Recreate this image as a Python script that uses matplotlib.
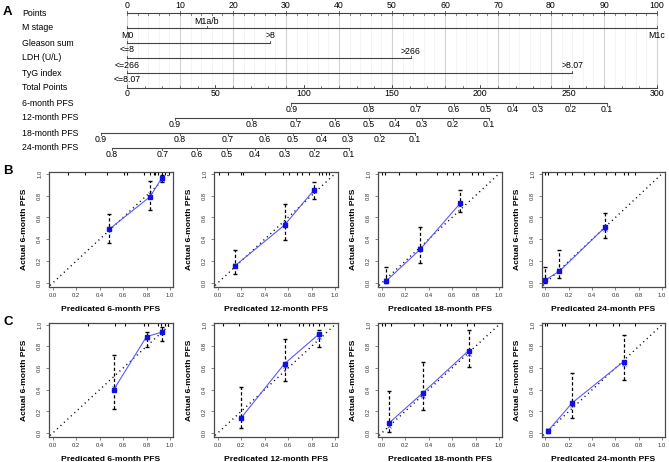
import matplotlib
matplotlib.use("Agg")
import matplotlib.pyplot as plt
from matplotlib.transforms import blended_transform_factory

plt.rcParams['font.family'] = ['Liberation Sans', 'DejaVu Sans']

W, H = 669, 462

# ---------------- nomogram data ----------------
row_names = ["Points", "M stage", "Gleason sum", "LDH (U/L)", "TyG index", "Total Points",
             "6-month PFS", "12-month PFS", "18-month PFS", "24-month PFS"]
points_major = list(range(0, 101, 10))
points_minor = list(range(0, 101, 2))

mstage_labels = ["M0", "M1a/b", "M1c"]
mstage_points = [0, 15, 100]
gleason_labels = ["<=8", ">8"]
gleason_points = [0, 27]
ldh_labels = ["<=266", ">266"]
ldh_points = [0, 53.5]
tyg_labels = ["<=8.07", ">8.07"]
tyg_points = [0, 84]

total_major = list(range(0, 301, 50))
total_minor = list(range(0, 301, 10))

pfs_labels = ["0.9", "0.8", "0.7", "0.6", "0.5", "0.4", "0.3", "0.2", "0.1"]
pfs24_labels = ["0.8", "0.7", "0.6", "0.5", "0.4", "0.3", "0.2", "0.1"]
pfs6_total = [93, 137, 163.5, 185, 203, 218.5, 232.6, 251, 271.6]
pfs12_total = [27, 70.7, 95.6, 117.7, 137, 151.7, 167, 184.5, 205]
pfs18_total = [-15, 30, 57, 78, 94, 110, 125, 143, 163]
pfs24_total = [-8.5, 20, 39.6, 56.6, 72.4, 89.4, 106, 125.6]

# ---------------- calibration data ----------------
x_labels = ["Predicated 6-month PFS", "Predicated 12-month PFS",
            "Predicated 18-month PFS", "Predicated 24-month PFS"]
y_label = "Actual 6-month PFS"

b_pred = [[0.48, 0.83, 0.93], [0.15, 0.57, 0.82], [0.04, 0.33, 0.67], [0.0, 0.12, 0.51]]
b_obs = [[0.49, 0.79, 0.96], [0.16, 0.53, 0.85], [0.02, 0.31, 0.73], [0.03, 0.11, 0.51]]
b_corr = [[0.49, 0.81, 0.95], [0.17, 0.55, 0.84], [0.03, 0.32, 0.71], [0.02, 0.12, 0.49]]
b_lo = [[0.37, 0.67, 0.92], [0.08, 0.39, 0.77], [0.0, 0.18, 0.65], [0.0, 0.05, 0.41]]
b_hi = [[0.63, 0.93, 0.99], [0.30, 0.72, 0.92], [0.15, 0.51, 0.85], [0.15, 0.30, 0.64]]
b_rug = [[0.13, 0.28, 0.46, 0.61, 0.63, 0.78, 0.83, 0.86, 0.87, 0.90, 0.93, 0.96, 0.99],
         [0.01, 0.09, 0.20, 0.22, 0.40, 0.56, 0.61, 0.68, 0.72, 0.78, 0.86, 0.89, 0.92, 0.95],
         [0.0, 0.03, 0.15, 0.29, 0.47, 0.56, 0.61, 0.66, 0.77, 0.82, 0.86],
         [0.0, 0.02, 0.10, 0.17, 0.23, 0.33, 0.42, 0.52, 0.60, 0.67, 0.71, 0.77]]

c_pred = [[0.52, 0.80, 0.93], [0.20, 0.57, 0.86], [0.06, 0.35, 0.74], [0.02, 0.23, 0.67]]
c_obs = [[0.40, 0.89, 0.93], [0.14, 0.64, 0.91], [0.09, 0.37, 0.76], [0.02, 0.28, 0.66]]
c_corr = [[0.42, 0.88, 0.94], [0.15, 0.62, 0.89], [0.07, 0.345, 0.73], [0.03, 0.26, 0.64]]
c_lo = [[0.22, 0.79, 0.85], [0.05, 0.48, 0.79], [0.015, 0.21, 0.61], [0.0, 0.14, 0.49]]
c_hi = [[0.72, 0.93, 0.98], [0.43, 0.87, 0.95], [0.39, 0.66, 0.95], [0.04, 0.55, 0.90]]
c_rug = [[0.30, 0.53, 0.62, 0.78, 0.81, 0.90, 0.925, 0.955, 0.98],
         [0.05, 0.18, 0.43, 0.51, 0.53, 0.69, 0.73, 0.78, 0.81, 0.865, 0.91],
         [0.0, 0.03, 0.08, 0.28, 0.35, 0.50, 0.56, 0.59, 0.73, 0.79],
         [0.0, 0.01, 0.14, 0.17, 0.37, 0.43, 0.58, 0.63, 0.77]]

fig = plt.figure(figsize=(W / 100, H / 100), dpi=100)

# ---------------- nomogram ----------------
PX0, PXU, ROW = 127, 5.3, 15.0
nom = fig.add_axes([0, 1 - 160 / H, 1, 160 / H])
nom.set_xlim(-PX0 / PXU, (W - PX0) / PXU)
nom.set_ylim((160 - 13) / ROW, -13 / ROW)
nom.axis('off')

lc = '#444444'
fs = 6.3


def rp(n):
    return n / ROW


def tp(v):
    return v * 100 / 300


for i, name in enumerate(row_names):
    nom.text((22 - PX0) / PXU, i, name, ha='left', va='center', fontsize=fs)
nom.text((3 - PX0) / PXU, -0.05, "A", ha='left', va='center', fontsize=9.5, fontweight='bold')

for v in points_minor:
    nom.plot([v, v], [0, 5], color='0.95', lw=0.6, zorder=0)
for v in points_major:
    nom.plot([v, v], [0, 5], color='0.82', lw=0.8, zorder=0)

# Points axis
nom.plot([0, 100], [0, 0], color=lc, lw=0.8)
for v in points_minor:
    nom.plot([v, v], [0, rp(1.5)], color=lc, lw=0.5)
for v in points_major:
    nom.plot([v, v], [0, -rp(2.5)], color=lc, lw=0.6)
    nom.text(v, -rp(8), str(v), ha='center', va='center', fontsize=fs)


def factor_row(r, pts, labels):
    nom.plot([min(pts), max(pts)], [r, r], color=lc, lw=0.8)
    for k, (v, lab) in enumerate(zip(pts, labels)):
        nom.plot([v, v], [r, r - rp(2)], color=lc, lw=0.6)
        off = rp(7) if k % 2 == 0 else -rp(7)
        nom.text(v, r + off, lab, ha='center', va='center', fontsize=fs)


factor_row(1, mstage_points, mstage_labels)
factor_row(2, gleason_points, gleason_labels)
factor_row(3, ldh_points, ldh_labels)
factor_row(4, tyg_points, tyg_labels)

# Total points axis
nom.plot([0, 100], [5, 5], color=lc, lw=0.8)
for v in total_minor:
    nom.plot([tp(v), tp(v)], [5, 5 - rp(2)], color=lc, lw=0.5)
for v in total_major:
    nom.plot([tp(v), tp(v)], [5, 5 - rp(2.5)], color=lc, lw=0.6)
    nom.text(tp(v), 5 + rp(5.5), str(v), ha='center', va='center', fontsize=fs)


def pfs_row(r, totals, labels):
    xs = [tp(t) for t in totals]
    nom.plot([min(xs), max(xs)], [r, r], color=lc, lw=0.8)
    for v, lab in zip(xs, labels):
        nom.plot([v, v], [r, r + rp(2.5)], color=lc, lw=0.6)
        nom.text(v, r + rp(6.5), lab, ha='center', va='center', fontsize=fs)


pfs_row(6, pfs6_total, pfs_labels)
pfs_row(7, pfs12_total, pfs_labels)
pfs_row(8, pfs18_total, pfs_labels)
pfs_row(9, pfs24_total, pfs24_labels)

# ---------------- calibration panels ----------------
box_x = [(49, 173), (214, 338), (378, 502), (542, 665)]
rows = [((172, 287), b_pred, b_obs, b_corr, b_lo, b_hi, b_rug, "B"),
        ((323, 437), c_pred, c_obs, c_corr, c_lo, c_hi, c_rug, "C")]

ticks = [0.0, 0.2, 0.4, 0.6, 0.8, 1.0]
for (ytop, ybot), pred, obs, corr, lo, hi, rug, letter in rows:
    fig.text(3 / W, 1 - (ytop - 1) / H, letter, ha='left', va='center',
             fontsize=9.5, fontweight='bold')
    for j, (x0, x1) in enumerate(box_x):
        ax = fig.add_axes([x0 / W, 1 - ybot / H, (x1 - x0) / W, (ybot - ytop) / H])
        ax.set_xlim(-0.03, 1.025)
        ax.set_ylim(-0.035, 1.015)
        for s in ax.spines.values():
            s.set_color('#4a4a4a')
            s.set_linewidth(0.9)
        ax.set_xticks(ticks)
        ax.set_yticks(ticks)
        ax.set_xticklabels(["%.1f" % t for t in ticks])
        ax.set_yticklabels(["%.1f" % t for t in ticks], rotation=90, va='center')
        ax.tick_params(length=2, width=0.5, color='#555555', labelsize=4.2,
                       labelcolor='#333333')
        ax.tick_params(axis='x', pad=2.4)
        ax.tick_params(axis='y', pad=3.0)
        ax.set_xlabel(x_labels[j], fontsize=6.1, fontweight='bold')
        ax.set_ylabel(y_label, fontsize=6.1, fontweight='bold')
        ax.xaxis.set_label_coords(0.5, -(19 / (ybot - ytop)))
        ax.yaxis.set_label_coords(-(21 / (x1 - x0)), 0.5)

        ax.plot([-0.05, 1.05], [-0.05, 1.05], color='black', lw=1.0,
                linestyle=(0, (0.8, 2.6)), zorder=1)
        tr = blended_transform_factory(ax.transData, ax.transAxes)
        ax.vlines(rug[j], 0.972, 1.0, transform=tr, color='black', lw=0.8)
        ax.vlines(pred[j], lo[j], hi[j], colors='black', linestyles=(0, (2.6, 1.8)),
                  lw=0.9, zorder=2)
        ax.plot(pred[j], hi[j], linestyle='none', marker='_', ms=3, mew=1.0, color='black')
        ax.plot(pred[j], lo[j], linestyle='none', marker='_', ms=3, mew=1.0, color='black')
        ax.plot(pred[j], obs[j], color='#5a5aff', lw=0.8, zorder=3)
        ax.plot(pred[j], corr[j], linestyle='none', marker='x', ms=2.6, mew=0.6,
                color='#4040ff', zorder=4)
        ax.plot(pred[j], obs[j], linestyle='none', marker='s', ms=2.2, color='#1010e6',
                zorder=5)

fig.savefig("out.png", dpi=100)
